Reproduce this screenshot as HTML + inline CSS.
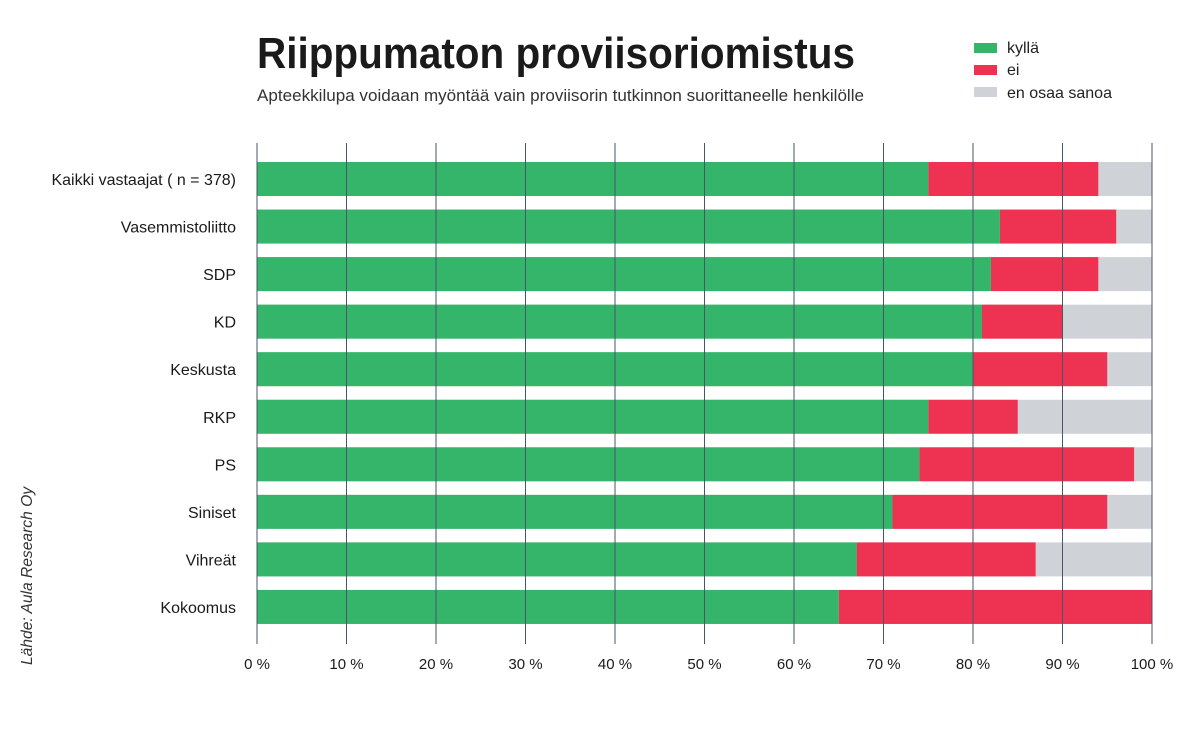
<!DOCTYPE html>
<html><head><meta charset="utf-8"><style>
html,body{margin:0;padding:0;background:#fff;}
svg{display:block;font-family:"Liberation Sans",sans-serif;}
</style></head><body>
<svg width="1200" height="755" viewBox="0 0 1200 755" xmlns="http://www.w3.org/2000/svg">
<rect width="1200" height="755" fill="#fff"/>
<text x="257" y="68" font-size="44" font-weight="bold" fill="#1a1a1a" textLength="598" lengthAdjust="spacingAndGlyphs">Riippumaton proviisoriomistus</text>
<text x="257" y="101" font-size="17" fill="#333" textLength="607" lengthAdjust="spacingAndGlyphs">Apteekkilupa voidaan myöntää vain proviisorin tutkinnon suorittaneelle henkilölle</text>
<rect x="974" y="43" width="23" height="10" fill="#34b56a"/>
<rect x="974" y="65" width="23" height="10" fill="#ee3352"/>
<rect x="974" y="87" width="23" height="10" fill="#cfd3d7"/>
<g font-size="16" fill="#222">
<text x="1007" y="53">kyllä</text>
<text x="1007" y="75">ei</text>
<text x="1007" y="98">en osaa sanoa</text>
</g>
<g id="bars"></g>
<g id="grid"></g>
<text transform="translate(32,665) rotate(-90)" font-size="16" font-style="italic" fill="#333" textLength="178" lengthAdjust="spacingAndGlyphs">Lähde: Aula Research Oy</text>
<script>
var d=[["Kaikki vastaajat ( n = 378)",75,94],["Vasemmistoliitto",83,96],["SDP",82,94],["KD",81,90],["Keskusta",80,95],["RKP",75,85],["PS",74,98],["Siniset",71,95],["Vihreät",67,87],["Kokoomus",65,100]];
var ns="http://www.w3.org/2000/svg",b=document.getElementById("bars"),g=document.getElementById("grid");
function X(p){return 257+p*8.95;}
function el(t,a,p,txt){var e=document.createElementNS(ns,t);for(var k in a)e.setAttribute(k,a[k]);if(txt)e.textContent=txt;p.appendChild(e);return e;}
d.forEach(function(r,i){var y=162+i*47.55;
el("rect",{x:X(0),y:y,width:X(100)-X(0),height:34,fill:"#cfd3d7"},b);
el("rect",{x:X(r[1]),y:y,width:X(r[2])-X(r[1]),height:34,fill:"#ee3352"},b);
el("rect",{x:X(0),y:y,width:X(r[1])-X(0),height:34,fill:"#34b56a"},b);
el("text",{x:236,y:y+23,"font-size":16,fill:"#1a1a1a","text-anchor":"end"},b,r[0]);
});
for(var p=0;p<=100;p+=10){var x=X(p);
el("line",{x1:x,x2:x,y1:143,y2:644,stroke:"#4a5568","stroke-width":1},g);
el("text",{x:x,y:669,"font-size":15,fill:"#1a1a1a","text-anchor":"middle"},g,p+" %");}
</script>
</svg>
</body></html>
